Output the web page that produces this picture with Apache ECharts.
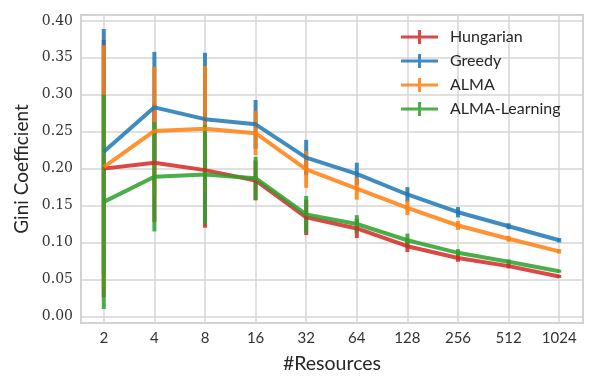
<!DOCTYPE html>
<html>
<head>
<meta charset="utf-8">
<script src="https://cdn.jsdelivr.net/npm/echarts@6/dist/echarts.min.js"></script>
<style>
  html, body { margin: 0; padding: 0; background: #fff; }
  #chart { width: 598px; height: 388px; }
</style>
</head>
<body>
<div id="chart"></div>
<script>
// number of resources (x categories)
const categories = ["2", "4", "8", "16", "32", "64", "128", "256", "512", "1024"];

// mean Gini coefficient and std (error bar half length) per method
const hungarianMean = [0.200, 0.208, 0.198, 0.184, 0.134, 0.119, 0.095, 0.079, 0.068, 0.054];
const hungarianStd = [0.174, 0.080, 0.078, 0.027, 0.024, 0.013, 0.008, 0.005, 0.003, 0.002];
const greedyMean = [0.223, 0.283, 0.267, 0.260, 0.215, 0.193, 0.165, 0.141, 0.122, 0.103];
const greedyStd = [0.166, 0.075, 0.090, 0.033, 0.024, 0.015, 0.010, 0.007, 0.004, 0.003];
const almaMean = [0.202, 0.251, 0.254, 0.248, 0.199, 0.173, 0.147, 0.123, 0.105, 0.088];
const almaStd = [0.165, 0.087, 0.085, 0.030, 0.025, 0.015, 0.010, 0.006, 0.004, 0.003];
const learningMean = [0.155, 0.189, 0.192, 0.187, 0.138, 0.125, 0.103, 0.086, 0.074, 0.061];
const learningStd = [0.145, 0.074, 0.067, 0.029, 0.025, 0.012, 0.009, 0.005, 0.003, 0.002];

const methods = [
	{ name: "Hungarian", mean: hungarianMean, std: hungarianStd, color: "rgba(214, 39, 40, 0.85)" },
	{ name: "Greedy", mean: greedyMean, std: greedyStd, color: "rgba(31, 119, 180, 0.85)" },
	{ name: "ALMA", mean: almaMean, std: almaStd, color: "rgba(255, 127, 14, 0.85)" },
	{ name: "ALMA-Learning", mean: learningMean, std: learningStd, color: "rgba(44, 160, 44, 0.85)" }
];

// legend icon: horizontal line with a vertical error bar through it
const crossIcon = "path://M0,5.5 L37,5.5 L37,8.5 L0,8.5 Z M17,0 L20,0 L20,14 L17,14 Z";

const series = [];
methods.forEach(m => {
	series.push({
		name: m.name,
		type: "line",
		symbol: "none",
		itemStyle: { color: m.color },
		lineStyle: { color: m.color, width: 4 },
		data: m.mean.map((v, i) => [i, v])
	});
	// error bars
	series.push({
		name: m.name,
		type: "custom",
		itemStyle: { color: m.color },
		renderItem: (params, api) => {
			const x = api.value(0);
			const mean = api.value(1);
			const s = api.value(2);
			const lo = api.coord([x, mean - s]);
			const hi = api.coord([x, mean + s]);
			return {
				type: "line",
				shape: { x1: lo[0], y1: lo[1], x2: hi[0], y2: hi[1] },
				style: { stroke: m.color, lineWidth: 4 }
			};
		},
		encode: { x: 0, y: 1 },
		data: m.mean.map((v, i) => [i, v, m.std[i]])
	});
});

const chart = echarts.init(document.getElementById("chart"));
chart.setOption({
	animation: false,
	backgroundColor: "#fff",
	grid: {
		left: 81,
		right: 15,
		top: 15,
		bottom: 65,
		show: true,
		borderColor: "#cccccc",
		borderWidth: 2
	},
	legend: {
		orient: "vertical",
		left: 396,
		top: 24,
		itemWidth: 37,
		itemHeight: 14,
		itemGap: 8,
		icon: crossIcon,
		data: methods.map(m => m.name),
		textStyle: { fontFamily: "Lato", fontSize: 16, color: "#262626", padding: [0, 0, 0, 7] }
	},
	xAxis: {
		type: "value",
		min: -0.45,
		max: 9.47,
		splitNumber: 10,
		name: "#Resources",
		nameLocation: "middle",
		nameGap: 31,
		nameTextStyle: { fontFamily: "Lato", fontSize: 19.5, color: "#262626" },
		axisLine: { show: false },
		axisTick: { show: false },
		axisLabel: {
			margin: 8,
			fontFamily: "Lato",
			fontSize: 15,
			color: "#333",
			showMinLabel: false,
			showMaxLabel: false,
			formatter: v => (Number.isInteger(v) && categories[v] ? categories[v] : "")
		},
		splitLine: { show: true, lineStyle: { color: "#d6d6d6", width: 1.5 } }
	},
	yAxis: {
		type: "value",
		min: -0.009,
		max: 0.408,
		splitNumber: 8,
		name: "Gini Coefficient",
		nameLocation: "middle",
		nameGap: 49,
		nameTextStyle: { fontFamily: "Lato", fontSize: 19, color: "#262626" },
		axisLine: { show: false },
		axisTick: { show: false },
		axisLabel: {
			margin: 8,
			fontFamily: "DejaVu Serif",
			fontSize: 14,
			color: "#333",
			showMinLabel: false,
			showMaxLabel: false,
			formatter: v => (Math.abs(v * 20 - Math.round(v * 20)) < 1e-6 ? v.toFixed(2) : "")
		},
		splitLine: { show: true, lineStyle: { color: "#d6d6d6", width: 1.5 } }
	},
	series: series
});
</script>
</body>
</html>
